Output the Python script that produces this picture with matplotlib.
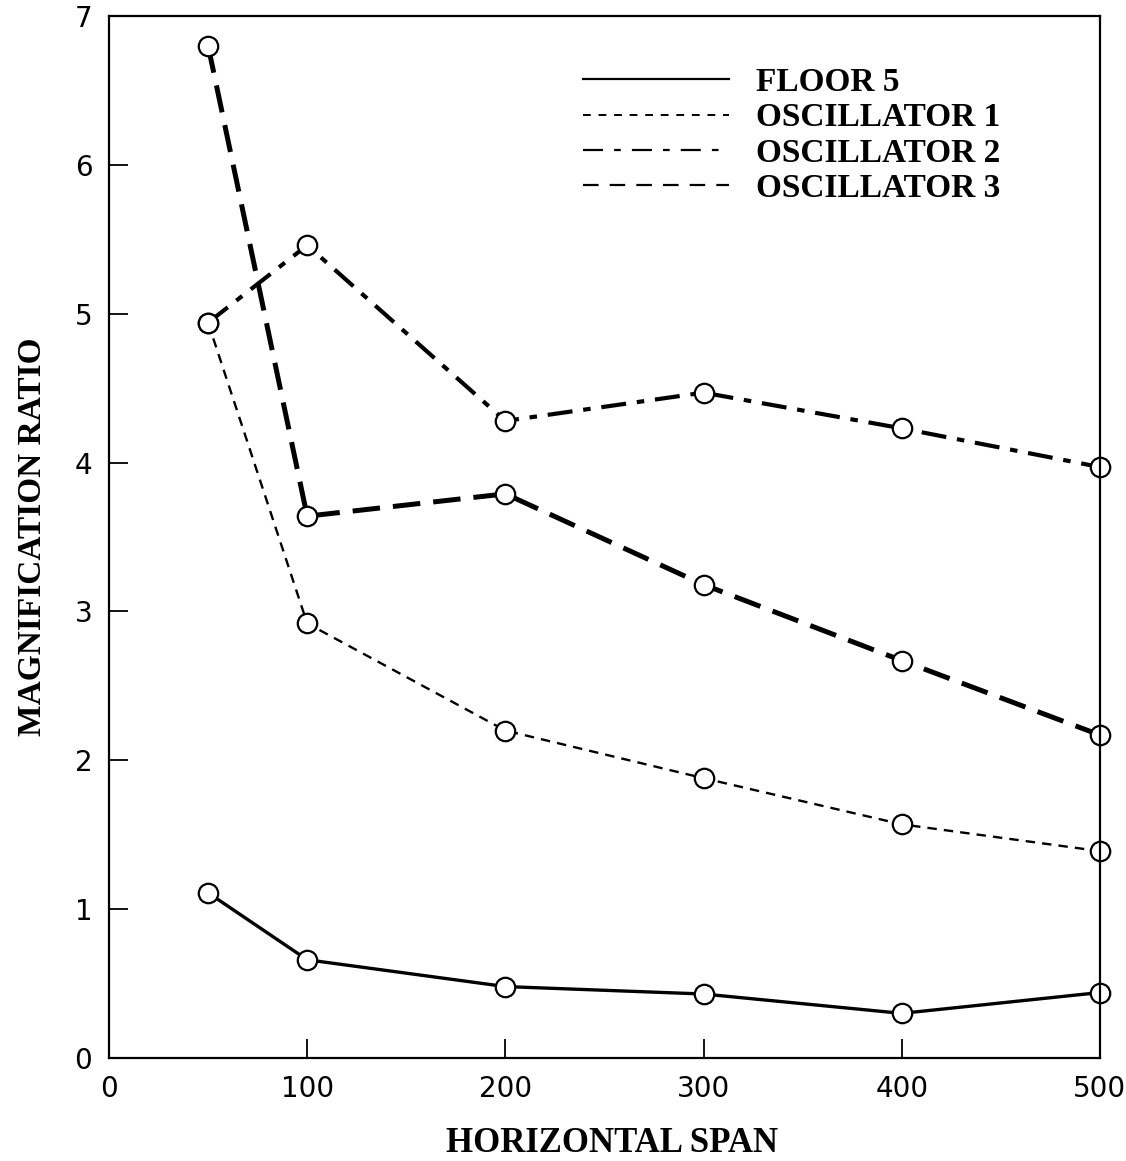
import matplotlib
matplotlib.use("Agg")
import matplotlib.pyplot as plt
from matplotlib.lines import Line2D

# values
span = [50, 100, 200, 300, 400, 500]
floor5 = [1.11, 0.66, 0.48, 0.43, 0.30, 0.44]
osc1 = [4.94, 2.92, 2.20, 1.88, 1.57, 1.39]
osc2 = [4.94, 5.46, 4.28, 4.47, 4.23, 3.97]
osc3 = [6.80, 3.64, 3.79, 3.18, 2.67, 2.17]

labels = ["FLOOR 5", "OSCILLATOR 1", "OSCILLATOR 2", "OSCILLATOR 3"]
xticks = [0, 100, 200, 300, 400, 500]
yticks = [0, 1, 2, 3, 4, 5, 6, 7]

serif = ["Liberation Serif", "DejaVu Serif"]
plt.rcParams["font.family"] = ["DejaVu Sans"]

fig = plt.figure(figsize=(11.26, 11.61), dpi=100)
ax = fig.add_axes([0.0968, 0.0887, 0.880, 0.8975])

marker = dict(marker="o", markersize=14, markerfacecolor="white",
              markeredgecolor="black", markeredgewidth=1.6, clip_on=False)

ax.plot(span, floor5, color="black", lw=2.4, linestyle="-", **marker)
ax.plot(span, osc1, color="black", lw=1.7, linestyle=(0, (4, 3)), **marker)
ax.plot(span, osc2, color="black", lw=3.0, linestyle=(0, (6, 2.6, 1.8, 2.6)), **marker)
ax.plot(span, osc3, color="black", lw=3.6, linestyle=(0, (5.5, 2.6)), **marker)

# legend keys are drawn thinner than the curves in the original
handles = [
    Line2D([], [], color="black", lw=1.6, linestyle="-"),
    Line2D([], [], color="black", lw=1.4, linestyle=(0, (4, 4))),
    Line2D([], [], color="black", lw=1.6, linestyle=(0, (9, 5, 3, 5))),
    Line2D([], [], color="black", lw=1.6, linestyle=(0, (7, 5))),
]
ax.legend(handles, labels, loc="upper left", bbox_to_anchor=(0.478, 0.951),
          frameon=False, handlelength=4.4, handletextpad=0.8,
          labelspacing=0.13, borderpad=0, borderaxespad=0,
          prop={"family": serif, "weight": "bold", "size": 24})

ax.set_xlim(0, 500)
ax.set_ylim(0, 7)
ax.set_xticks(xticks)
ax.set_yticks(yticks)
ax.tick_params(direction="in", length=14, width=1.3, labelsize=20, pad=12)

for s in ax.spines.values():
    s.set_linewidth(1.6)

ax.set_xlabel("HORIZONTAL SPAN", fontfamily=serif, fontweight="bold", fontsize=25)
ax.set_ylabel("MAGNIFICATION RATIO", fontfamily=serif, fontweight="bold", fontsize=24)
ax.xaxis.set_label_coords(0.508, -0.066)
ax.yaxis.set_label_coords(-0.062, 0.5)

fig.savefig("out.png", dpi=100)
